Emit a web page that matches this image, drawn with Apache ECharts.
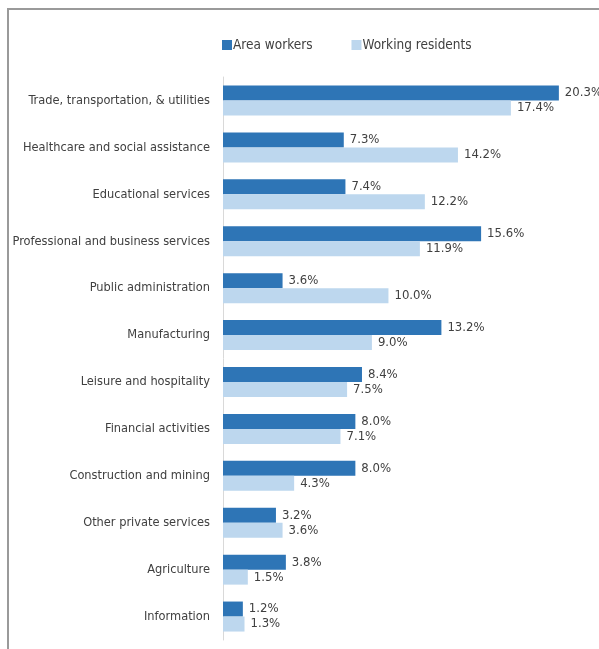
<!DOCTYPE html>
<html>
<head>
<meta charset="utf-8">
<script src="https://cdn.jsdelivr.net/npm/echarts@6/dist/echarts.min.js"></script>
<style>
  html, body { margin: 0; padding: 0; background: #ffffff; }
  #chart { width: 599px; height: 649px; }
</style>
</head>
<body>
<div id="chart"></div>
<script>
// Industry shares of jobs: people working in the area vs. residents who work
const industries = [
  'Trade, transportation, & utilities',
  'Healthcare and social assistance',
  'Educational services',
  'Professional and business services',
  'Public administration',
  'Manufacturing',
  'Leisure and hospitality',
  'Financial activities',
  'Construction and mining',
  'Other private services',
  'Agriculture',
  'Information'
];
const areaWorkers = [20.3, 7.3, 7.4, 15.6, 3.6, 13.2, 8.4, 8.0, 8.0, 3.2, 3.8, 1.2];
const workingResidents = [17.4, 14.2, 12.2, 11.9, 10.0, 9.0, 7.5, 7.1, 4.3, 3.6, 1.5, 1.3];
const seriesNames = ['Area workers', 'Working residents'];

const FONT = "'Liberation Sans Narrow', 'DejaVu Sans Condensed', sans-serif";
const TEXT = '#404040';

const valueLabel = {
  show: true,
  position: 'right',
  distance: 6,
  color: TEXT,
  fontFamily: FONT,
  fontSize: 13,
  formatter: p => p.value.toFixed(1) + '%'
};

const chart = echarts.init(document.getElementById('chart'), null, { renderer: 'canvas' });
chart.setOption({
  animation: false,
  backgroundColor: '#ffffff',
  graphic: [
    {
      type: 'rect',
      silent: true,
      shape: { x: 8, y: 9, width: 700, height: 700 },
      style: { fill: 'none', stroke: '#9a9a9a', lineWidth: 2 }
    }
  ],
  legend: {
    data: seriesNames,
    left: 217,
    top: 33,
    icon: 'rect',
    itemWidth: 10,
    itemHeight: 10,
    itemGap: 39,
    textStyle: { color: TEXT, fontFamily: FONT, fontSize: 13.5, padding: [0, 0, 0, -4] }
  },
  grid: { left: 223, right: 12, top: 77, bottom: 9, outerBoundsMode: 'none', containLabel: false },
  xAxis: {
    type: 'value',
    min: 0,
    max: 22,
    show: false
  },
  yAxis: {
    type: 'category',
    data: industries,
    inverse: true,
    axisLine: { show: true, lineStyle: { color: '#d9d9d9', width: 1 } },
    axisTick: { show: false },
    axisLabel: { color: TEXT, fontFamily: FONT, fontSize: 12.7, margin: 13 }
  },
  series: [
    {
      name: seriesNames[0],
      type: 'bar',
      data: areaWorkers,
      barWidth: 15,
      barGap: '0%',
      itemStyle: { color: '#2e75b6' },
      label: valueLabel
    },
    {
      name: seriesNames[1],
      type: 'bar',
      data: workingResidents,
      barWidth: 15,
      barGap: '0%',
      itemStyle: { color: '#bdd7ee' },
      label: valueLabel
    }
  ]
});
</script>
</body>
</html>
